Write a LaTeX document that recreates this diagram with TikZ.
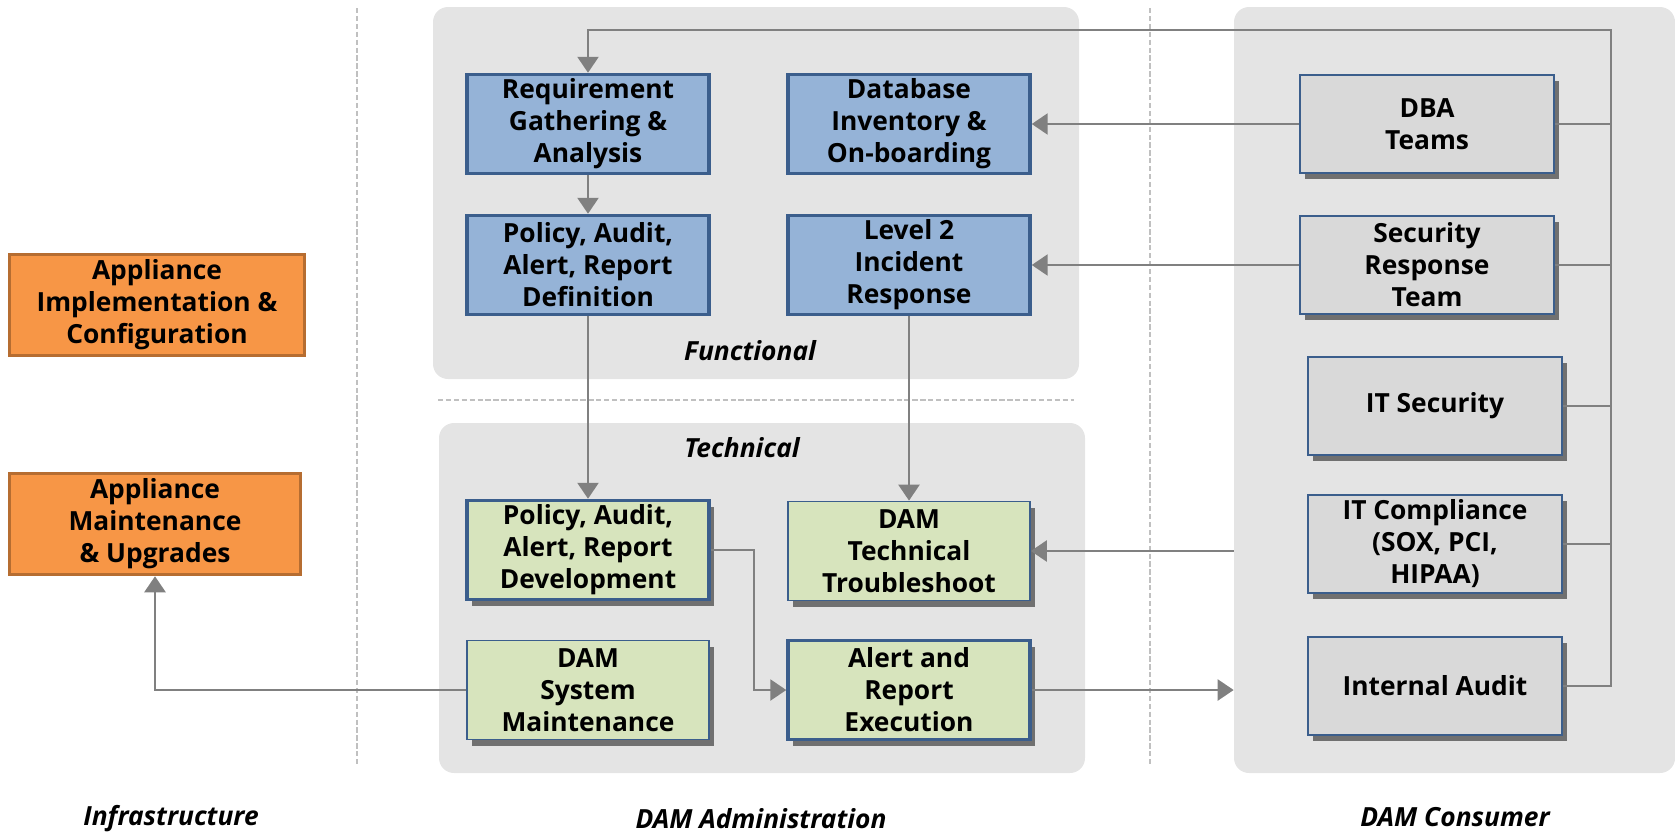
\documentclass[tikz,border=0pt]{standalone}
\usepackage{fontspec}
\setmainfont{Open Sans}
\usetikzlibrary{arrows.meta,shadows,fit}
\definecolor{panelgray}{HTML}{E4E4E4}
\definecolor{funcblue}{HTML}{95B3D7}
\definecolor{edgeblue}{HTML}{3B5E8C}
\definecolor{techgreen}{HTML}{D7E4BD}
\definecolor{usergray}{HTML}{D9D9D9}
\definecolor{infraorange}{HTML}{F79646}
\definecolor{infraedge}{HTML}{B66D31}
\definecolor{linegray}{HTML}{808080}
\definecolor{sepgray}{HTML}{C0C0C0}

\begin{document}
\begin{tikzpicture}[x=0.02cm,y=-0.02cm,font=\fontsize{15}{18.2}\selectfont\bfseries]
% Estilos
\tikzset{panel/.style={fill=panelgray,rounded corners=0.3cm,inner sep=0pt},
	box/.style={rectangle,align=center,inner sep=0pt,minimum width=4.84cm,minimum height=1.98cm},
	shade box/.style={drop shadow={shadow xshift=0.1cm,shadow yshift=-0.12cm,fill=black!75,opacity=0.7}},
	func box/.style={box,fill=funcblue,draw=edgeblue,line width=2pt},
	tech box/.style={box,shade box,fill=techgreen,draw=edgeblue,line width=1pt},
	user box/.style={box,shade box,fill=usergray,draw=edgeblue,line width=1pt,minimum width=5.08cm,minimum height=1.96cm},
	infra box/.style={box,fill=infraorange,draw=infraedge,line width=2pt,minimum width=5.9cm,minimum height=2.02cm},
	conn/.style={draw=linegray,line width=1.4pt},
	tip/.style={conn,-{Triangle[length=0.32cm,width=0.42cm]}},
	sep/.style={draw=sepgray,line width=0.6pt,dash pattern=on 3pt off 1.5pt},
	zone/.style={font=\fontsize{15}{18}\selectfont\bfseries\itshape}}

\useasboundingbox (0,0) rectangle (1675,832);

% Separadores
\draw[sep] (357,8) -- (357,766) (1150,8) -- (1150,766) (438,400) -- (1074,400);

% Paineis
\node[panel,fit={(433,7) (1079,379)}] (func) {};
\node[panel,fit={(439,423) (1085,773)}] (tech) {};
\node[panel,fit={(1234,7) (1675,773)}] (cons) {};

% Infraestrutura
\node[infra box] (implcfg) at (157,305) {Appliance\\Implementation \&\\Configuration};
\node[infra box,minimum width=5.82cm] (maintupg) at (155,524) {Appliance\\Maintenance\\\& Upgrades};

% Funcional
\node[func box] (reqgat) at (588,124) {Requirement\\Gathering \&\\Analysis};
\node[func box] (dbinv) at (909,124) {Database\\Inventory \&\\On-boarding};
\node[func box] (poldef) at (588,265) {Policy, Audit,\\Alert, Report\\Definition};
\node[func box] (incresp) at (909,265) {Level 2\\Incident\\Response};
\node[zone] (functxt) at (750,351) {Functional};

% Tecnico
\node[zone] (techtxt) at (742,448) {Technical};
\node[tech box,line width=2pt] (poldev) at (588,550) {Policy, Audit,\\Alert, Report\\Development};
\node[tech box] (troubl) at (909,551) {DAM\\Technical\\Troubleshoot};
\node[tech box] (sysmaint) at (588,690) {DAM\\System\\Maintenance};
\node[tech box,line width=2pt] (alertexe) at (909,690) {Alert and\\Report\\Execution};

% Consumidor
\node[user box] (dba) at (1427,124) {DBA\\Teams};
\node[user box] (secresp) at (1427,265) {Security\\Response\\Team};
\node[user box] (itsec) at (1435,406) {IT Security};
\node[user box] (itcomp) at (1435,544) {IT Compliance\\(SOX, PCI,\\HIPAA)};
\node[user box] (intaud) at (1435,686) {Internal Audit};

% Rotulos
\node[zone] (infratxt) at (171,819) {Infrastructure};
\node[zone] (admintxt) at (761,819) {DAM Administration};
\node[zone] (constxt) at (1455,817) {DAM Consumer};

% Conexoes
\coordinate (bustop) at (1611,30);
\draw[tip] (intaud.east) -| (bustop) -| (reqgat.north);
\foreach \u in {dba,secresp,itsec,itcomp}{
	\draw[conn] (\u.east) -- (\u.east -| bustop);
}

\draw[tip] (dba.west) -- (dbinv.east);
\draw[tip] (secresp.west) -- (incresp.east);
\draw[tip] (reqgat.south) -- (poldef.north);
\draw[tip] (poldef.south) -- (poldev.north);
\draw[tip] (incresp.south) -- (troubl.north);
\draw[tip] (cons.west |- troubl.east) -- (troubl.east);
\draw[tip] (poldev.east) -- ++(43,0) |- (alertexe.west);
\draw[tip] (alertexe.east) -- (alertexe.east -| cons.west);
\draw[tip] (sysmaint.west) -| (maintupg.south);

\end{tikzpicture}
\end{document}
